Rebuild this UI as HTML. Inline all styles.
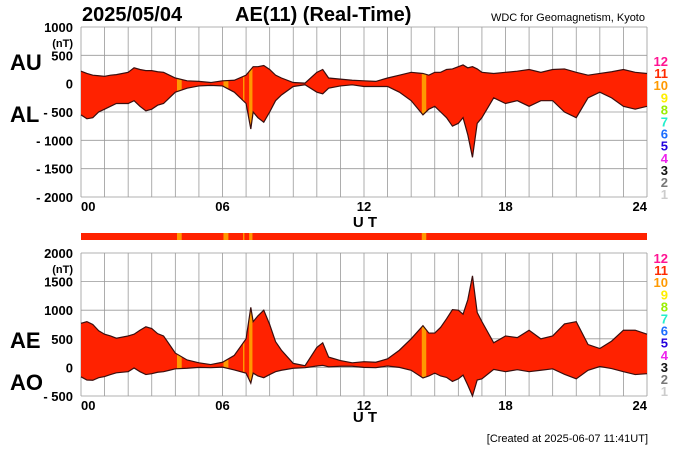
<!DOCTYPE html>
<html><head><meta charset="utf-8"><style>
body{margin:0;background:#fff;}
svg{display:block;font-family:"Liberation Sans",sans-serif;}
</style></head><body>
<svg id="c" width="700" height="450" viewBox="0 0 700 450"></svg>
<script>
const times=[0,0.25,0.5,0.75,1,1.25,1.5,2,2.25,2.5,2.75,3,3.25,3.5,3.75,4,4.5,5,5.5,6,6.5,7,7.2,7.3,7.5,7.75,8,8.25,8.5,9,9.5,10,10.25,10.5,11,11.5,12,12.5,13,13.5,14,14.5,14.75,15,15.25,15.5,15.75,16,16.2,16.4,16.6,16.8,17,17.5,18,18.5,19,19.5,20,20.5,21,21.5,22,22.5,23,23.5,24];
const au=[220,180,150,140,130,150,160,200,280,250,230,230,210,200,150,100,50,40,20,50,60,150,250,300,300,320,250,150,100,20,10,200,250,100,80,60,50,40,100,150,200,180,150,200,200,250,260,300,330,280,300,260,200,180,200,220,250,200,250,260,200,150,180,210,250,200,180];
const al=[-550,-620,-600,-500,-450,-400,-350,-350,-300,-400,-480,-450,-380,-350,-250,-150,-80,-40,-30,-40,-150,-350,-800,-500,-600,-680,-500,-300,-200,-50,-20,-150,-180,-80,-40,-20,-50,-50,-50,-150,-300,-550,-450,-400,-500,-600,-750,-700,-600,-900,-1300,-700,-600,-250,-350,-300,-400,-300,-300,-500,-600,-250,-150,-250,-400,-450,-400];
const orangeStart=[4.07,6.04,6.87,7.13,14.45];
const orangeEnd=[4.27,6.25,6.93,7.27,14.64];
const topTicks=[1000,500,0,-500,-1000,-1500,-2000];
const botTicks=[2000,1500,1000,500,0,-500];
const hourLabels=["00","06","12","18","24"];
const legendLabels=["12","11","10","9","8","7","6","5","4","3","2","1"];
const legendColors=["#ff1493","#ff2a00","#ff9900","#ffee00","#99ee00","#22eecc","#1a6cff","#2200dd","#ee22ee","#111","#777","#ccc"];

const NS="http://www.w3.org/2000/svg",svg=document.getElementById('c');
function mk(t,a,p){const e=document.createElementNS(NS,t);for(const k in a)e.setAttribute(k,a[k]);(p||svg).appendChild(e);return e;}
function txt(x,y,s,a,p){const e=mk('text',Object.assign({x:x,y:y},a),p);e.textContent=s;return e;}
const X0=81,X1=647;
const xs=h=>X0+(X1-X0)*h/24;
const ae=au.map((v,i)=>v-al[i]);
const ao=au.map((v,i)=>(v+al[i])/2);

function panel(name,yTop,yBot,vTop,vBot,ticks,upper,lower,lblU,lblL,lblUY,lblLY,legY,uty){
  const ys=v=>yTop+(vTop-v)*(yBot-yTop)/(vTop-vBot);
  const g=mk('g',{});
  
  
  for(let h=0;h<=24;h++){const l=mk('line',{x1:xs(h),x2:xs(h),y1:yTop,y2:yBot,stroke:'#999','stroke-width':0.8},g);
    }
  ticks.forEach(t=>{const l=mk('line',{x1:X0,x2:X1,y1:ys(t),y2:ys(t),stroke:'#999','stroke-width':0.8},g);
    
    const lbl=(t<0?'- '+(-t):String(t));
    const tt=txt(73,ys(t)+5,lbl,{'text-anchor':'end','font-size':13,'font-weight':'bold'},g);
    });
  const u=txt(73,yTop+20,'(nT)',{'text-anchor':'end','font-size':11,'font-weight':'bold'},g);
  
  let up=upper.map((v,i)=>xs(times[i])+','+ys(v)).join(' L');
  let lo=lower.map((v,i)=>xs(times[i])+','+ys(v)).reverse().join(' L');
  const cp=mk('clipPath',{id:'clip-'+name},g);
  mk('path',{d:'M'+up+' L'+lo+'Z'},cp);
  const area=mk('path',{d:'M'+up+' L'+lo+'Z',fill:'#ff2200'},g);
  
  orangeStart.forEach((s,i)=>{const r=mk('rect',{x:xs(s),y:yTop,width:xs(orangeEnd[i])-xs(s),height:yBot-yTop,fill:'#ff9900','clip-path':'url(#clip-'+name+')'},g);
    });
  const l1=mk('path',{d:'M'+up,fill:'none',stroke:'#3a0e0e','stroke-width':1.2},g);
  
  const l2=mk('path',{d:'M'+lower.map((v,i)=>xs(times[i])+','+ys(v)).join(' L'),fill:'none',stroke:'#3a0e0e','stroke-width':1.2},g);
  
  hourLabels.forEach((s,i)=>{const t=txt(xs(i*6),yBot+14,s,{'text-anchor':i==0?'start':(i==4?'end':'middle'),'font-size':13,'font-weight':'bold'},g);
    });
  const ut=txt(365,uty,'U T',{'text-anchor':'middle','font-size':15,'font-weight':'bold'},g);
  
  const a=txt(10,lblUY,lblU,{'font-size':22,'font-weight':'bold'},g);
  
  const b=txt(10,lblLY,lblL,{'font-size':22,'font-weight':'bold'},g);
  
  legendLabels.forEach((s,i)=>{const t=txt(668,legY+i*12.1,s,{'text-anchor':'end','font-size':13,'font-weight':'bold',fill:legendColors[i]},g);
    });
}
panel('au-al',27,197,1000,-2000,topTicks,au,al,'AU','AL',70,122,66,227);
panel('ae-ao',253,396,2000,-500,botTicks,ae,ao,'AE','AO',348,390,263,422);

const bar=mk('rect',{x:X0,y:233,width:X1-X0,height:7,fill:'#ff2200'});

orangeStart.forEach((s,i)=>{const r=mk('rect',{x:xs(s),y:233,width:xs(orangeEnd[i])-xs(s),height:7,fill:'#ff9900'});
  });

const t1=txt(82,21,'2025/05/04',{'font-size':20,'font-weight':'bold'});

const t2=txt(235,21,'AE(11) (Real-Time)',{'font-size':20,'font-weight':'bold'});

const t3=txt(645,21,'WDC for Geomagnetism, Kyoto',{'text-anchor':'end','font-size':11});

const t4=txt(648,442,'[Created at 2025-06-07 11:41UT]',{'text-anchor':'end','font-size':11});

</script>
</body></html>
